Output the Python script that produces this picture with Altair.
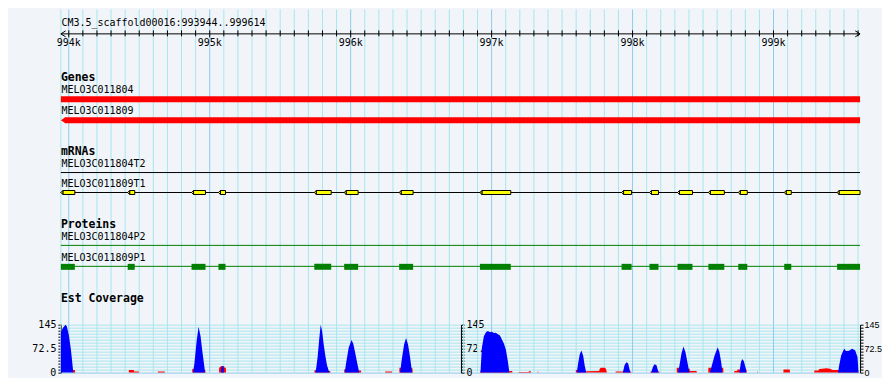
import altair as alt
import pandas as pd

# ---------------------------------------------------------------- data
SCAFFOLD = "CM3.5_scaffold00016"
VIEW_START = 993944
VIEW_END = 999614

RULER_TICKS = list(range(994000, 999601, 100))
RULER_LABEL_POS = [994000, 995000, 996000, 997000, 998000, 999000]
RULER_LABELS = ["994k", "995k", "996k", "997k", "998k", "999k"]

TRACK_NAMES = ["Genes", "mRNAs", "Proteins", "Est Coverage"]

GENE_NAMES = ["MELO3C011804", "MELO3C011809"]
GENE_STRANDS = ["+", "-"]
GENE_STARTS = [993944, 993944]
GENE_ENDS = [999614, 999614]

MRNA_NAMES = ["MELO3C011804T2", "MELO3C011809T1"]
PROTEIN_NAMES = ["MELO3C011804P2", "MELO3C011809P1"]

# exons of MELO3C011809T1 (= CDS blocks of MELO3C011809P1)
EXON_STARTS = [993944, 994418, 994871, 995062, 995742, 995954, 996344, 996917,
               997922, 998120, 998319, 998538, 998750, 999076, 999451]
EXON_ENDS = [994043, 994468, 994970, 995112, 995862, 996053, 996443, 997136,
             997993, 998184, 998425, 998651, 998814, 999126, 999614]

COV_MAX = 145
BLUE_POS = [993944, 993958, 993976, 993986, 994001, 994015, 994025, 994032,
            994882, 994892, 994907, 994921, 994935, 994949, 994963, 994967,
            995080, 995084, 995098, 995101,
            995749, 995756, 995766, 995776, 995787, 995797, 995808, 995820, 995832, 995845, 995850,
            995958, 995968, 995986, 996006, 996018, 996032, 996046, 996057, 996061,
            996351, 996361, 996379, 996393, 996407, 996422, 996432, 996436,
            996921, 996931, 996945, 996960, 996974, 996988, 997002, 997016, 997030,
            997044, 997059, 997073, 997087, 997101, 997115, 997126,
            997604, 997614, 997625, 997637, 997650, 997660, 997671,
            997931, 997943, 997956, 997968, 997984,
            998132, 998145, 998156, 998170, 998184,
            998322, 998333, 998347, 998361, 998375, 998389, 998400, 998404,
            998549, 998563, 998581, 998604, 998616, 998630, 998637,
            998758, 998768, 998777, 998789, 998804, 998807,
            999458, 999465, 999480, 999501, 999515, 999536, 999557, 999579, 999596, 999603]
BLUE_COV = [122, 135, 145, 140, 112, 70, 30, 0,
            0, 30, 95, 139, 110, 60, 15, 0,
            0, 19, 19, 0,
            0, 15, 49, 97, 145, 127, 87, 52, 22, 5, 0,
            0, 30, 75, 99, 88, 60, 30, 8, 0,
            0, 35, 85, 105, 85, 45, 12, 0,
            0, 75, 110, 122, 126, 122, 124, 120, 121,
            116, 112, 100, 88, 70, 35, 0,
            0, 28, 55, 67, 50, 22, 0,
            0, 22, 31, 28, 0,
            0, 18, 25, 22, 0,
            0, 22, 58, 79, 62, 32, 6, 0,
            0, 22, 50, 77, 62, 28, 0,
            0, 30, 41, 35, 12, 0,
            0, 20, 52, 72, 65, 66, 72, 68, 47, 0]

RED_POS = [994027, 994029, 994043, 994046,
           994425, 994427, 994461, 994464, 994496, 994499,
           994631, 994633, 994680, 994683,
           994875, 994877, 994968, 994971,
           995066, 995067, 995080, 995101, 995106, 995114, 995116,
           995742, 995744, 995850, 995855, 995857,
           995954, 995955, 996062, 996073, 996075,
           996244, 996246, 996293, 996295,
           996345, 996346, 996437, 996441,
           996918, 996920, 997146, 997148,
           997192, 997193, 997262, 997265, 997278, 997280,
           997326, 997327, 997331, 997332,
           997597, 997598, 997605, 997672, 997762, 997768, 997775, 997805, 997812, 997818,
           997879, 997880, 997990, 997992,
           998126, 998127, 998190, 998192,
           998313, 998314, 998405, 998407, 998454, 998456,
           998537, 998538, 998643, 998645,
           998721, 998722, 998740, 998745, 998808, 998810,
           998886, 998887, 998890, 998891,
           999070, 999071, 999115, 999117,
           999289, 999290, 999318, 999325, 999345, 999375, 999400, 999420, 999600, 999603]
RED_COV = [0, 8, 8, 0,
           0, 8, 8, 3, 3, 0,
           0, 3, 3, 0,
           0, 12, 8, 0,
           0, 15, 19, 19, 15, 15, 0,
           0, 7, 5, 5, 0,
           0, 10, 6, 6, 0,
           0, 3, 3, 0,
           0, 15, 15, 0,
           0, 5, 5, 0,
           0, 2, 2, 4, 4, 0,
           0, 3, 3, 0,
           0, 8, 8, 4, 5, 12, 15, 15, 10, 0,
           0, 3, 3, 0,
           0, 3, 3, 0,
           0, 15, 12, 5, 5, 0,
           0, 15, 15, 0,
           0, 5, 5, 9, 9, 0,
           0, 3, 3, 0,
           0, 9, 9, 0,
           0, 6, 6, 11, 12, 13, 12, 8, 8, 0]

# ---------------------------------------------------------------- styles
BG = "#f1f5f9"
GRID_MINOR = "#a8e6ee"
GRID_MAJOR = "#8fcbee"
FONT = "DejaVu Sans Mono"
NARROW_FONT = "Liberation Sans"
GENE_RED = "#ff0000"
EXON_YELLOW = "#ffff00"
CDS_GREEN = "#008000"
COV_BLUE = "#0000ff"
COV_RED = "#ff0000"

# ---------------------------------------------------------------- layout (page pixel rows)
PLOT_W = 801
TRACKS_TOP, TRACKS_BOTTOM = 8, 324
COV_H = 48
Y_TITLE = 25
Y_RULER = 32.5
Y_TICK_TOP, Y_TICK_BOT, Y_TICK_BOT_MAJOR = 29, 35, 36
Y_RULER_LABEL = 45
Y_HEADERS = [80, 154, 227, 301]
Y_GENE_LABELS = [92, 113]
Y_MRNA_LABELS = [166, 186]
Y_PROT_LABELS = [239, 260]
Y_GENE_BARS = [(95, 101), (116, 122)]
Y_MRNA_LINES = [171.5, 191.5]
Y_PROT_LINES = [244.5, 265.5]
Y_EXON = (189.5, 193.5)
Y_CDS = (263, 269)

LEFT_CHEVRON = "M1.6,-1L0,0L1.6,1"
RIGHT_CHEVRON = "M-1.6,-1L0,0L-1.6,1"
LEFT_TRIANGLE = "M0,0L1.5,-1L1.5,1Z"
EXON_TIP = "M0,0L1,-1L1,1Z"

# ---------------------------------------------------------------- scales
XS = alt.Scale(domain=[VIEW_START, VIEW_END], nice=False, zero=False)
YS = alt.Scale(domain=[TRACKS_TOP, TRACKS_BOTTOM], reverse=True, nice=False, zero=False)


def xq(field):
    return alt.X(field, type="quantitative", scale=XS, axis=None)


def yq(field):
    return alt.Y(field, type="quantitative", scale=YS, axis=None)


text_kw = dict(font=FONT, fontSize=10, color="black", baseline="alphabetic")
GRID_COLOR = alt.condition("datum.major", alt.value(GRID_MAJOR), alt.value(GRID_MINOR))

grid_df = pd.DataFrame({"pos": [VIEW_START] + RULER_TICKS})
grid_df["major"] = grid_df["pos"] % 1000 == 0
grid_df["y1"] = TRACKS_TOP
grid_df["y2"] = TRACKS_BOTTOM

# ---------------------------------------------------------------- track panel
track_grid = alt.Chart(grid_df).mark_rule(strokeWidth=1).encode(
    x=xq("pos"), y=yq("y1"), y2="y2", color=GRID_COLOR)

ruler_df = pd.DataFrame({"start": [VIEW_START], "end": [VIEW_END], "y": [Y_RULER]})
ruler_line = alt.Chart(ruler_df).mark_rule(color="black", strokeWidth=1).encode(
    x=xq("start"), x2="end", y=yq("y"))

tick_df = pd.DataFrame({"pos": RULER_TICKS})
tick_df["y1"] = Y_TICK_TOP
tick_df["y2"] = [Y_TICK_BOT_MAJOR if p % 1000 == 0 else Y_TICK_BOT for p in RULER_TICKS]
ruler_ticks = alt.Chart(tick_df).mark_rule(color="black", strokeWidth=1).encode(
    x=xq("pos"), y=yq("y1"), y2="y2")

lab_df = pd.DataFrame({"pos": RULER_LABEL_POS, "label": RULER_LABELS, "y": Y_RULER_LABEL})
ruler_labels = alt.Chart(lab_df).mark_text(align="center", **text_kw).encode(
    x=xq("pos"), y=yq("y"), text="label:N")

arrow_l = alt.Chart(pd.DataFrame({"pos": [VIEW_START], "y": [Y_RULER]})).mark_point(
    shape=LEFT_CHEVRON, size=36, filled=False, color="black", strokeWidth=1, opacity=1
).encode(x=xq("pos"), y=yq("y"))
arrow_r = alt.Chart(pd.DataFrame({"pos": [VIEW_END], "y": [Y_RULER]})).mark_point(
    shape=RIGHT_CHEVRON, size=36, filled=False, color="black", strokeWidth=1, opacity=1
).encode(x=xq("pos"), y=yq("y"))

title_df = pd.DataFrame({"pos": [VIEW_START], "y": [Y_TITLE],
                         "label": [f"{SCAFFOLD}:{VIEW_START}..{VIEW_END}"]})
title_txt = alt.Chart(title_df).mark_text(align="left", dx=0.5, **text_kw).encode(
    x=xq("pos"), y=yq("y"), text="label:N")

hdr_df = pd.DataFrame({"pos": VIEW_START, "y": Y_HEADERS, "label": TRACK_NAMES})
headers = alt.Chart(hdr_df).mark_text(
    align="left", font=FONT, fontSize=11.5, fontWeight="bold", color="black",
    baseline="alphabetic").encode(x=xq("pos"), y=yq("y"), text="label:N")

feat_df = pd.DataFrame({
    "pos": VIEW_START,
    "y": Y_GENE_LABELS + Y_MRNA_LABELS + Y_PROT_LABELS,
    "label": GENE_NAMES + MRNA_NAMES + PROTEIN_NAMES,
})
feat_labels = alt.Chart(feat_df).mark_text(align="left", dx=0.5, **text_kw).encode(
    x=xq("pos"), y=yq("y"), text="label:N")

gene_df = pd.DataFrame({
    "name": GENE_NAMES, "strand": GENE_STRANDS, "start": GENE_STARTS, "end": GENE_ENDS,
    "y1": [a for a, b in Y_GENE_BARS], "y2": [b for a, b in Y_GENE_BARS],
})
gene_df["ymid"] = (gene_df["y1"] + gene_df["y2"]) / 2
genes_plus = alt.Chart(gene_df).transform_filter("datum.strand == '+'").mark_rect(
    color=GENE_RED).encode(x=xq("start"), x2="end", y=yq("y1"), y2="y2")
genes_minus = alt.Chart(gene_df).transform_filter("datum.strand == '-'").mark_rect(
    color=GENE_RED, xOffset=4).encode(x=xq("start"), x2="end", y=yq("y1"), y2="y2")
genes_tip = alt.Chart(gene_df).transform_filter("datum.strand == '-'").mark_point(
    shape=LEFT_TRIANGLE, size=36, filled=True, color=GENE_RED, opacity=1, strokeWidth=0
).encode(x=xq("start"), y=yq("ymid"))

mrna_lines = alt.Chart(pd.DataFrame({
    "start": VIEW_START, "end": VIEW_END, "y": Y_MRNA_LINES})).mark_rule(
    color="black", strokeWidth=1).encode(x=xq("start"), x2="end", y=yq("y"))
prot_lines = alt.Chart(pd.DataFrame({
    "start": VIEW_START, "end": VIEW_END, "y": Y_PROT_LINES})).mark_rule(
    color=CDS_GREEN, strokeWidth=1).encode(x=xq("start"), x2="end", y=yq("y"))

exon_df = pd.DataFrame({"start": EXON_STARTS, "end": EXON_ENDS,
                        "y1": Y_EXON[0], "y2": Y_EXON[1],
                        "ymid": (Y_EXON[0] + Y_EXON[1]) / 2,
                        "c1": Y_CDS[0], "c2": Y_CDS[1]})
exons = alt.Chart(exon_df).mark_rect(
    fill=EXON_YELLOW, stroke="black", strokeWidth=1, xOffset=2).encode(
    x=xq("start"), x2="end", y=yq("y1"), y2="y2")
exon_tips = alt.Chart(exon_df).mark_point(
    shape=EXON_TIP, size=16, filled=True, fill=EXON_YELLOW, stroke="black",
    strokeWidth=1, opacity=1).encode(x=xq("start"), y=yq("ymid"))
cds = alt.Chart(exon_df).mark_rect(color=CDS_GREEN).encode(
    x=xq("start"), x2="end", y=yq("c1"), y2="c2")

tracks = alt.layer(
    track_grid, ruler_line, ruler_ticks, ruler_labels, arrow_l, arrow_r, title_txt,
    headers, feat_labels, genes_plus, genes_minus, genes_tip, mrna_lines, prot_lines,
    exons, exon_tips, cds,
).properties(width=PLOT_W, height=TRACKS_BOTTOM - TRACKS_TOP)

# ---------------------------------------------------------------- coverage panel
YC = alt.Scale(domain=[0, COV_MAX], nice=False, zero=True)
COV_TICKS = [COV_MAX * i / 16 for i in range(17)]
LABEL_EXPR = ("datum.value === 0 || datum.value === 72.5 || datum.value === 145"
              " ? '' + datum.value : ''")
cov_axis_kw = dict(values=COV_TICKS, labelExpr=LABEL_EXPR, tickSize=3, tickColor="black",
                   tickWidth=1, domainColor="black", domainWidth=1,
                   labelColor="black", title=None, labelOverlap=False)
LEFT_AXIS = alt.Axis(orient="left", grid=True, gridWidth=1,
                     gridColor={"condition": {"test": "datum.value === 0", "value": GRID_MAJOR},
                                "value": GRID_MINOR},
                     labelFont=FONT, labelFontSize=10, labelPadding=2, **cov_axis_kw)
RIGHT_AXIS = alt.Axis(orient="right", grid=False, labelFont=NARROW_FONT,
                      labelFontSize=9, labelPadding=1, **cov_axis_kw)
MID_AXIS = alt.Axis(orient="right", offset=-400, grid=False, labelFont=FONT,
                    labelFontSize=10, labelPadding=2, **cov_axis_kw)

red_df = pd.DataFrame({"pos": RED_POS, "cov": RED_COV})
blue_df = pd.DataFrame({"pos": BLUE_POS, "cov": BLUE_COV})

cov_grid = alt.Chart(grid_df).mark_rule(strokeWidth=1).encode(
    x=xq("pos"), y=alt.value(0), y2=alt.value(COV_H), color=GRID_COLOR)
red_area = alt.Chart(red_df).mark_area(color=COV_RED, opacity=1).encode(
    x=xq("pos"), y=alt.Y("cov:Q", scale=YC, axis=LEFT_AXIS))
blue_area = alt.Chart(blue_df).mark_area(color=COV_BLUE, opacity=1).encode(
    x=xq("pos"), y=alt.Y("cov:Q", scale=YC, axis=RIGHT_AXIS))
mid_axis_layer = alt.Chart(blue_df).mark_area(opacity=0).encode(
    x=xq("pos"), y=alt.Y("cov:Q", scale=YC, axis=MID_AXIS))

coverage = alt.layer(cov_grid, red_area, blue_area, mid_axis_layer).resolve_scale(
    y="independent").properties(width=PLOT_W, height=COV_H)

chart = alt.vconcat(tracks, coverage, spacing=0, bounds="flush").properties(
    background=BG,
    padding={"left": 23, "top": 0, "right": 0, "bottom": 0},
).configure_view(strokeWidth=0)

chart.save("out.html", embed_options={"renderer": "svg", "actions": False})
